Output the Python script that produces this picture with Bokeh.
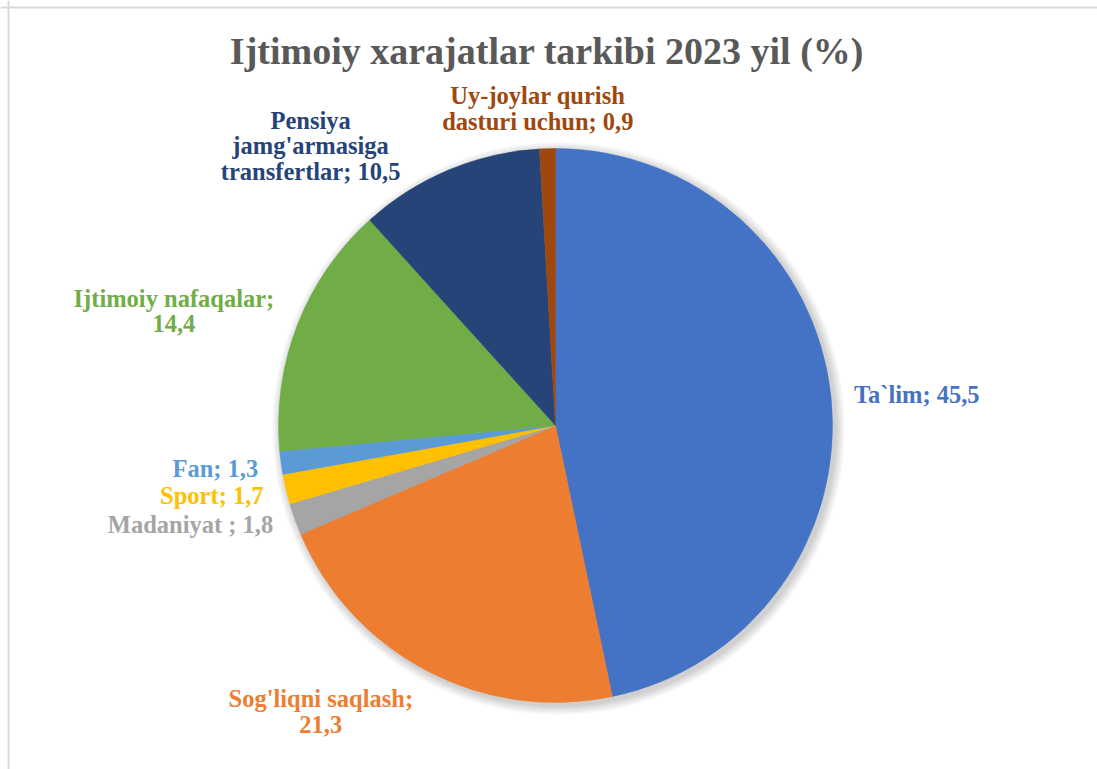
import math
from bokeh.plotting import figure
from bokeh.models import Range1d, Span, ColumnDataSource
from bokeh.core.properties import value
from bokeh.embed import file_html
from bokeh.resources import INLINE

# ---- data ----
categories = ["Ta`lim", "Sog'liqni saqlash", "Madaniyat", "Sport", "Fan",
              "Ijtimoiy nafaqalar", "Pensiya jamg'armasiga transfertlar",
              "Uy-joylar qurish dasturi uchun"]
values = [45.5, 21.3, 1.8, 1.7, 1.3, 14.4, 10.5, 0.9]
label_texts = ["Ta`lim; 45,5", "Sog'liqni saqlash;\n21,3", "Madaniyat ; 1,8",
               "Sport; 1,7", "Fan; 1,3", "Ijtimoiy nafaqalar;\n14,4",
               "Pensiya\njamg'armasiga\ntransfertlar; 10,5",
               "Uy-joylar qurish\ndasturi uchun; 0,9"]
colors = ["#4472C4", "#ED7D31", "#A5A5A5", "#FFC000", "#5B9BD5",
          "#70AD47", "#264478", "#9E480E"]
title_text = "Ijtimoiy xarajatlar tarkibi 2023 yil (%)"

# ---- layout (pixels) ----
W, H = 1097, 769
cx, cy = 555, H - 425          # pie centre in data (pixel) units
R = 277
LABEL_R = 300
# (align, dx, dy) : label nudges relative to the point on the mid-angle ray
label_style = [("left", 0, 0), ("center", -96, -20), ("right", 0, 2),
               ("right", 0, -1), ("right", 0, -2), ("center", -102, 6),
               ("center", -129, 3), ("center", -9, 17)]

total = sum(values)
starts, ends, mids = [], [], []
cum = 0.0
for v in values:
    a0 = 90 - (cum + v) / total * 360
    a1 = 90 - cum / total * 360
    starts.append(math.radians(a0))
    ends.append(math.radians(a1))
    mids.append(math.radians((a0 + a1) / 2))
    cum += v

p = figure(width=W, height=H, x_range=Range1d(0, W), y_range=Range1d(0, H),
           output_backend="svg", toolbar_location=None,
           x_axis_type=None, y_axis_type=None, min_border=0)
p.grid.visible = False
p.outline_line_color = None
p.background_fill_color = "white"

# soft shadow
for k in range(8):
    p.circle(x=[cx + 3], y=[cy - 3], radius=R + 1 + k * 1.2,
             fill_color="black", fill_alpha=0.025, line_color=None)

src = ColumnDataSource(dict(start=starts, end=ends, color=colors, cat=categories))
p.wedge(x=cx, y=cy, radius=R, start_angle="start", end_angle="end",
        fill_color="color", line_color="color", line_width=0.5, source=src)

# labels
for txt, col, m, (al, dx, dy) in zip(label_texts, colors, mids, label_style):
    lx = cx + LABEL_R * math.cos(m) + dx
    ly = cy + LABEL_R * math.sin(m) + dy
    p.text(x=[lx], y=[ly], text=[txt], text_color=col, text_align=al,
           text_baseline="middle", text_font=value("Liberation Serif"),
           text_font_style="bold", text_font_size="24.5px", text_line_height=0.94)

# title
p.text(x=[W / 2 - 2], y=[H - 50], text=[title_text], text_color="#595959",
       text_align="center", text_baseline="middle",
       text_font=value("Liberation Serif"), text_font_style="bold",
       text_font_size="38px")

# chart-area border (top and left visible in reference)
p.add_layout(Span(location=8, dimension="height", line_color="#d9d9d9", line_width=2))
p.add_layout(Span(location=H - 7, dimension="width", line_color="#d9d9d9", line_width=2))

open("out.html", "w").write(file_html(p, INLINE))
